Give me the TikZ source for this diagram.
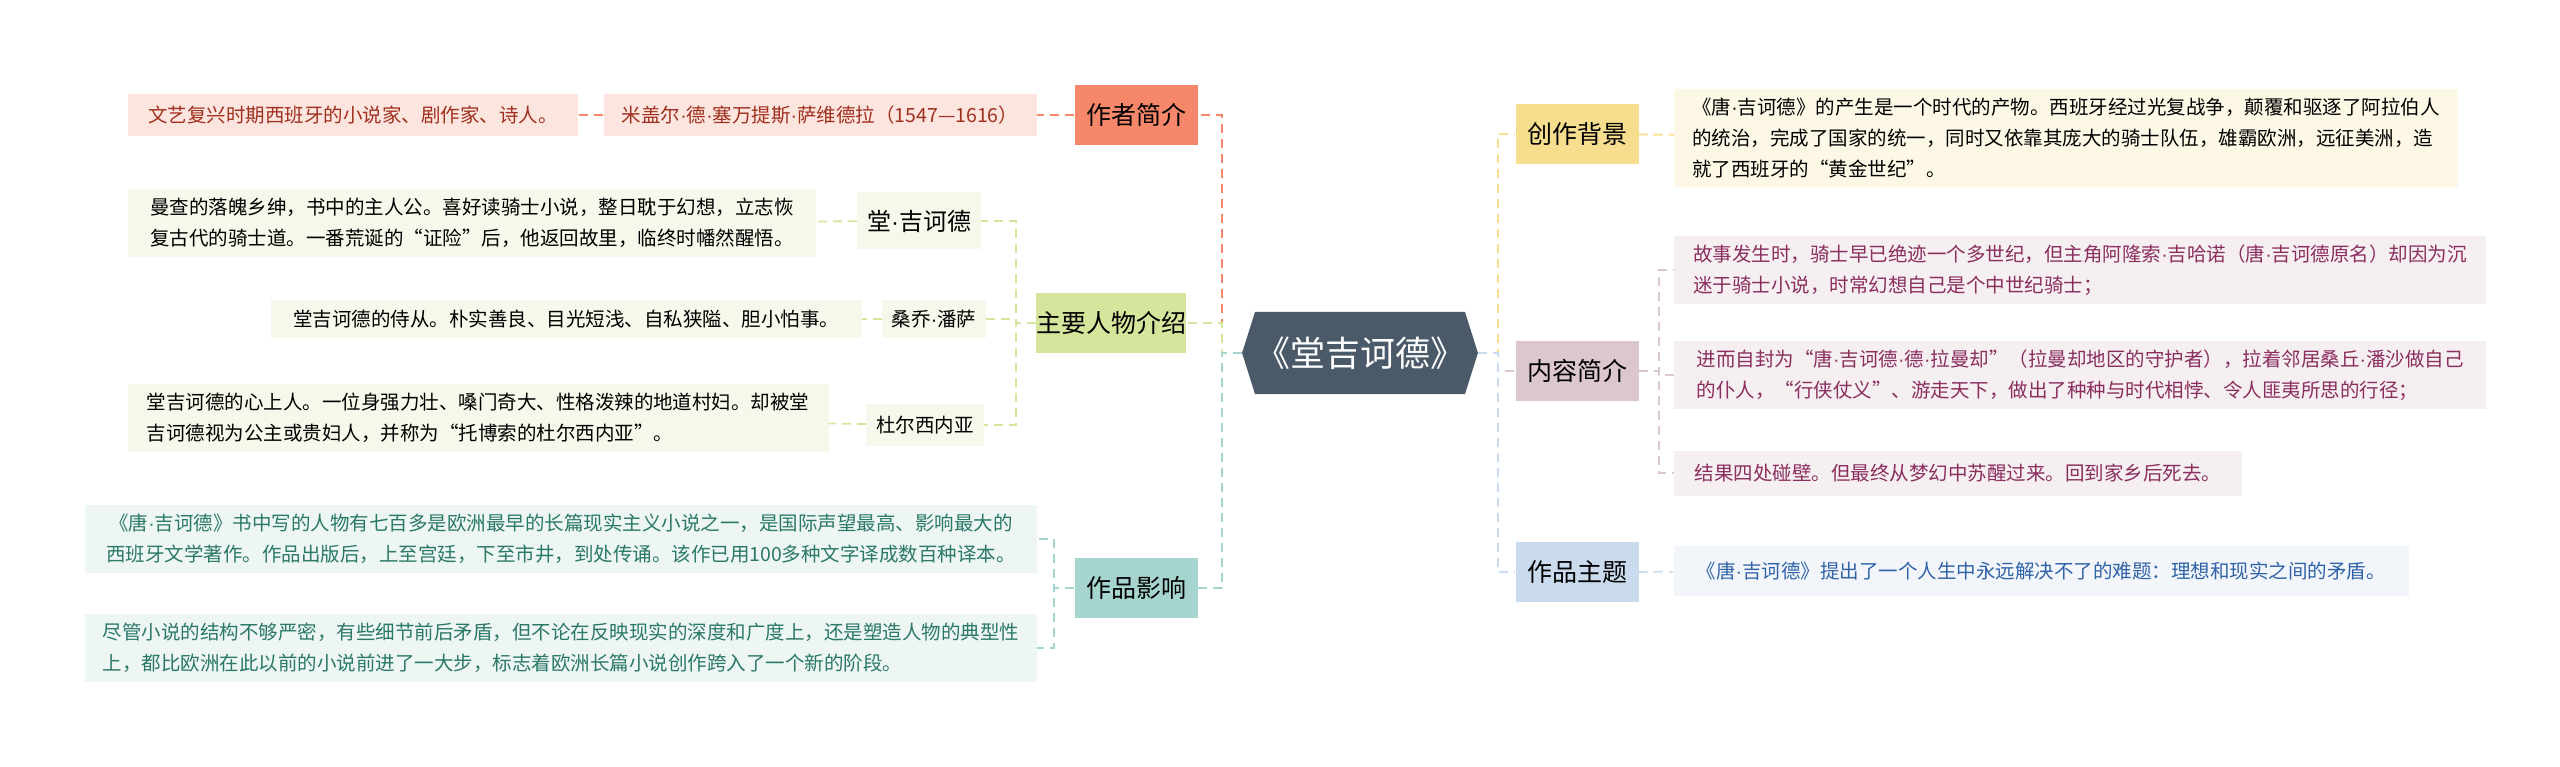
\documentclass[tikz,border=0pt]{standalone}
\usepackage{fontspec}
\setmainfont{Noto Sans CJK SC}
\newfontfamily\latinf{Liberation Sans}
\newcommand{\md}{{\latinf ·}}
\XeTeXlinebreaklocale "zh"
\usetikzlibrary{shapes.symbols}
\definecolor{rootc}{HTML}{4A5A69}
\definecolor{zzc}{HTML}{F7876A}\definecolor{zzl}{HTML}{FCE4DF}\definecolor{zzt}{HTML}{A0301E}
\definecolor{rwc}{HTML}{D6E59C}\definecolor{rwl}{HTML}{F5F8EA}
\definecolor{yxc}{HTML}{A6D5CF}\definecolor{yxl}{HTML}{EEF6F4}\definecolor{yxt}{HTML}{2A7868}
\definecolor{bjc}{HTML}{F7DE8E}\definecolor{bjl}{HTML}{FDF8E6}
\definecolor{nrc}{HTML}{DCC7D0}\definecolor{nrl}{HTML}{F6EFF2}\definecolor{nrt}{HTML}{8A2E5E}
\definecolor{ztc}{HTML}{C9DBEC}\definecolor{ztl}{HTML}{F2F6FA}\definecolor{ztt}{HTML}{2F62A6}
\tikzset{
  root/.style={shape=signal, signal to=east and west, signal pointer angle=145,
    fill=rootc, text=white, font=\fontsize{35}{40}\selectfont,
    minimum width=235pt, minimum height=82pt, inner sep=0pt},
  topic/.style={fill=#1, font=\fontsize{25}{30}\selectfont, minimum width=123pt,
    minimum height=60pt, inner sep=0pt},
  leaf/.style={fill=#1, font=\fontsize{19.5}{31}\selectfont, align=left,
    inner xsep=10pt, inner ysep=9pt},
  link/.style={draw=#1, dash pattern=on 9pt off 6pt, line width=1.8pt}
}
\begin{document}
\begin{tikzpicture}[x=1pt,y=-1pt]
  \useasboundingbox (0,0) rectangle (2560,767);
  % centre
  \node[root] (root) at (1360,353) {《堂吉诃德》};
  % left side
  \node[topic=zzc] (zz) at (1136,115) {作者简介};
  \node[leaf=zzl,text=zzt,minimum width=433pt,minimum height=42pt] (zz1) at (820,115) {米盖尔\md 德\md 塞万提斯\md 萨维德拉（1547—1616）};
  \node[leaf=zzl,text=zzt,minimum width=450pt,minimum height=42pt] (zz2) at (353,115) {文艺复兴时期西班牙的小说家、剧作家、诗人。};
  \node[topic=rwc] (rw) at (1111,323) {主要人物介绍};
  \node[leaf=rwl,font=\fontsize{24}{28}\selectfont,minimum height=57pt,align=center] (rw1) at (919,221) {堂\md 吉诃德};
  \node[leaf=rwl,minimum height=38pt,align=center] (rw2) at (934,319) {桑乔\md 潘萨};
  \node[leaf=rwl,minimum height=42pt,align=center] (rw3) at (925,425) {杜尔西内亚};
  \node[leaf=rwl,minimum width=688pt] (rw1a) at (472,223) {曼查的落魄乡绅，书中的主人公。喜好读骑士小说，整日耽于幻想，立志恢\\复古代的骑士道。一番荒诞的“证险”后，他返回故里，临终时幡然醒悟。};
  \node[leaf=rwl,minimum width=591pt,minimum height=38pt] (rw2a) at (566,319) {堂吉诃德的侍从。朴实善良、目光短浅、自私狭隘、胆小怕事。};
  \node[leaf=rwl,minimum width=701pt] (rw3a) at (478,418) {堂吉诃德的心上人。一位身强力壮、嗓门奇大、性格泼辣的地道村妇。却被堂\\吉诃德视为公主或贵妇人，并称为“托博索的杜尔西内亚”。};
  \node[topic=yxc] (yx) at (1136,588) {作品影响};
  \node[leaf=yxl,text=yxt,minimum width=952pt,align=center] (yx1) at (561,539) {《唐\md 吉诃德》书中写的人物有七百多是欧洲最早的长篇现实主义小说之一，是国际声望最高、影响最大的\\西班牙文学著作。作品出版后，上至宫廷，下至市井，到处传诵。该作已用100多种文字译成数百种译本。};
  \node[leaf=yxl,text=yxt,minimum width=952pt] (yx2) at (561,648) {尽管小说的结构不够严密，有些细节前后矛盾，但不论在反映现实的深度和广度上，还是塑造人物的典型性\\上，都比欧洲在此以前的小说前进了一大步，标志着欧洲长篇小说创作跨入了一个新的阶段。};
  % right side
  \node[topic=bjc] (bj) at (1577,134) {创作背景};
  \node[leaf=bjl,minimum width=784pt] (bj1) at (2066,138) {《唐\md 吉诃德》的产生是一个时代的产物。西班牙经过光复战争，颠覆和驱逐了阿拉伯人\\的统治，完成了国家的统一，同时又依靠其庞大的骑士队伍，雄霸欧洲，远征美洲，造\\就了西班牙的“黄金世纪”。};
  \node[topic=nrc] (nr) at (1577,371) {内容简介};
  \node[leaf=nrl,text=nrt,minimum width=812pt] (nr1) at (2080,270) {故事发生时，骑士早已绝迹一个多世纪，但主角阿隆索\md 吉哈诺（唐\md 吉诃德原名）却因为沉\\迷于骑士小说，时常幻想自己是个中世纪骑士；};
  \node[leaf=nrl,text=nrt,minimum width=812pt] (nr2) at (2080,375) {进而自封为“唐\md 吉诃德\md 德\md 拉曼却”（拉曼却地区的守护者），拉着邻居桑丘\md 潘沙做自己\\的仆人，“行侠仗义”、游走天下，做出了种种与时代相悖、令人匪夷所思的行径；};
  \node[leaf=nrl,text=nrt,minimum width=568pt,minimum height=45pt] (nr3) at (1958,473) {结果四处碰壁。但最终从梦幻中苏醒过来。回到家乡后死去。};
  \node[topic=ztc] (zt) at (1577,572) {作品主题};
  \node[leaf=ztl,text=ztt,minimum width=735pt,minimum height=50pt] (zt1) at (2041,571) {《唐\md 吉诃德》提出了一个人生中永远解决不了的难题：理想和现实之间的矛盾。};
  % connectors
  \draw[link=zzc] (root.west) -- ++(-20,0) |- (zz.east);
  \draw[link=rwc] (root.west) -- ++(-20,0) |- (rw.east);
  \draw[link=yxc] (root.west) -- ++(-20,0) |- (yx.east);
  \draw[link=zzc] (zz) -- (zz1);
  \draw[link=zzc] (zz1) -- (zz2);
  \foreach \k in {rw1,rw2,rw3}
    \draw[link=rwc] (rw.west) -- ++(-20,0) |- (\k.east);
  \draw[link=rwc] (rw1) -- (rw1a);
  \draw[link=rwc] (rw2) -- (rw2a);
  \draw[link=rwc] (rw3) -- (rw3a);
  \foreach \k in {yx1,yx2}
    \draw[link=yxc] (yx.west) -- ++(-20,0) |- (\k.east);
  \draw[link=bjc] (root.east) -- ++(20,0) |- (bj.west);
  \draw[link=nrc] (root.east) -- ++(20,0) |- (nr.west);
  \draw[link=ztc] (root.east) -- ++(20,0) |- (zt.west);
  \draw[link=bjc] (bj) -- (bj1);
  \foreach \k in {nr1,nr2,nr3}
    \draw[link=nrc] (nr.east) -- ++(20,0) |- (\k.west);
  \draw[link=ztc] (zt) -- (zt1);
\end{tikzpicture}
\end{document}
